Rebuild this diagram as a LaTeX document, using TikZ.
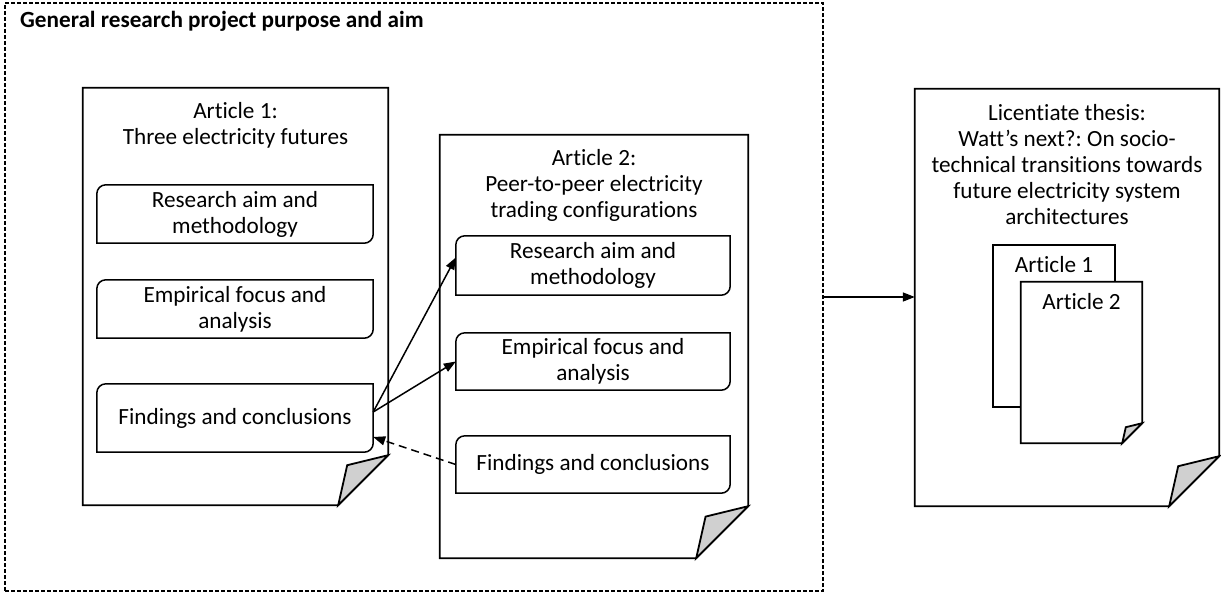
\documentclass[tikz,border=0pt]{standalone}
\usepackage{fontspec}
\setmainfont{Carlito}[Ligatures=NoCommon]
\frenchspacing
\usetikzlibrary{arrows.meta,calc}
\definecolor{flapgray}{RGB}{208,208,208}
\tikzset{
  every node/.style={font=\fontsize{23.2}{26}\selectfont, inner sep=0pt, align=center},
  pageline/.style={line width=1.8pt, line join=miter},
  boxline/.style={line width=1.5pt},
  ibox/.style={minimum width=#1},
  conn/.style={line width=1.5pt, -{Triangle[length=12pt,width=9pt]}},
  dconn/.style={conn, dash pattern=on 8pt off 5pt},
}
\newcommand\roundbox[1]{\draw[boxline] (#1.south west) -- ([yshift=-9pt]#1.north west) arc[start angle=180,end angle=90,radius=9pt] -- (#1.north east) -- ([yshift=9pt]#1.south east) arc[start angle=0,end angle=-90,radius=9pt] -- cycle;}
\newcommand\pageshape[2]{%
  \draw[pageline,fill=white] (#1.north west) -- (#1.north east) -- ([yshift=#2pt]#1.south east) -- ([xshift=-#2pt]#1.south east) -- (#1.south west) -- cycle;
  \draw[pageline,fill=flapgray] ([yshift=#2pt]#1.south east) -- ([xshift=-0.82*#2pt, yshift=0.8*#2pt]#1.south east) -- ([xshift=-#2pt]#1.south east) -- cycle;}
\begin{document}
\begin{tikzpicture}[x=1pt,y=-1pt]
\useasboundingbox (0,0) rectangle (1221,594);
% outer frame
\node[draw, line width=1.3pt, dash pattern=on 4pt off 2pt, minimum width=818pt, minimum height=588pt] (frame) at (414,297) {};
\node[anchor=base west, font=\fontsize{23.2}{26}\selectfont\bfseries] (title) at (20,28) {General research project purpose and aim};
% pages
\node[minimum width=305pt, minimum height=417pt] (a1) at (235.5,296.5) {};
\node[minimum width=308pt, minimum height=423pt] (a2) at (594,346.5) {};
\node[minimum width=304pt, minimum height=417pt] (th) at (1067,297.5) {};
\pageshape{a1}{50}
\pageshape{a2}{52}
\pageshape{th}{50}
% page labels
\node (a1lab) at (235.5,125) {Article 1:\\Three electricity futures};
\node (a2lab) at (594,185) {Article 2:\\Peer-to-peer electricity\\trading configurations};
\node (thlab) at (1067,165) {Licentiate thesis:\\Watt’s next?: On socio-\\technical transitions towards\\future electricity system\\architectures};
% small pages inside thesis
\node[minimum width=122pt, minimum height=162pt] (s1) at (1054,326) {};
\draw[pageline,fill=white] (s1.north west) rectangle (s1.south east);
\node (s1lab) at ([yshift=-20pt]s1.north) {Article 1};
\node[minimum width=121pt, minimum height=161pt] (s2) at (1081.5,362.5) {};
\pageshape{s2}{20}
\node (s2lab) at ([yshift=-20pt]s2.north) {Article 2};
% article 1 boxes
\node[ibox=276pt, minimum height=58pt] (a1res) at (235,214) {Research aim and\\methodology};
\node[ibox=276pt, minimum height=58pt] (a1emp) at (235,309) {Empirical focus and\\analysis};
\node[ibox=276pt, minimum height=68pt] (a1find) at (235,418) {Findings and conclusions};
\roundbox{a1res}\roundbox{a1emp}\roundbox{a1find}
% article 2 boxes
\node[ibox=274pt, minimum height=59pt] (a2res) at (593,265.5) {Research aim and\\methodology};
\node[ibox=274pt, minimum height=57pt] (a2emp) at (593,361.5) {Empirical focus and\\analysis};
\node[ibox=274pt, minimum height=57pt] (a2find) at (593,464.5) {Findings and conclusions};
\roundbox{a2res}\roundbox{a2emp}\roundbox{a2find}
% connectors
\coordinate (fstart) at ([yshift=6pt]a1find.east);
\draw[conn] (fstart) -- ([yshift=8pt]a2res.west);
\draw[conn] (fstart) -- (a2emp.west);
\draw[dconn] (a2find.west) -- ([yshift=-19pt]a1find.east);
\draw[conn] (frame.east) -- (frame.east -| th.west);
\end{tikzpicture}
\end{document}
